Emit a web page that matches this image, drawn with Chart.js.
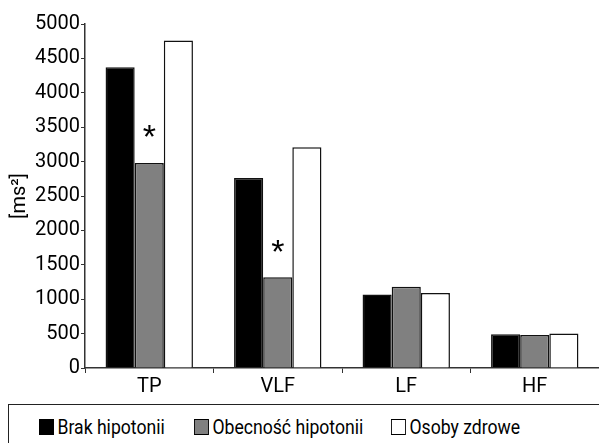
<!DOCTYPE html>
<html>
<head>
<meta charset="utf-8">
<script src="https://cdn.jsdelivr.net/npm/chart.js@4"></script>
<style>
  html, body { margin: 0; padding: 0; background: #fff; }
  body { width: 599px; height: 443px; position: relative; overflow: hidden;
         font-family: Roboto, "Liberation Sans", sans-serif; }
  #wrap { position: absolute; left: 0; top: 0; width: 599px; height: 404px; }
  #legend { position: absolute; left: 8px; top: 404px; width: 600px; height: 50px;
            border: 1px solid #222; box-sizing: border-box; }
  .item { position: absolute; top: 11px; font-size: 20px; line-height: 22px; color: #000;
          white-space: nowrap; transform: scaleX(0.88); transform-origin: left center; }
  .sw { display: inline-block; width: 17px; height: 16px; border: 1px solid #000;
        vertical-align: -1px; margin-right: 4px; box-sizing: border-box; }
</style>
</head>
<body>
<div id="wrap"><canvas id="chart"></canvas></div>
<div id="legend">
  <div class="item" style="left:30px"><span class="sw" style="background:#000"></span>Brak hipotonii</div>
  <div class="item" style="left:185px"><span class="sw" style="background:#808080"></span>Obecność hipotonii</div>
  <div class="item" style="left:382px"><span class="sw" style="background:#fff"></span>Osoby zdrowe</div>
</div>
<script>
// Data
const categories = ['TP', 'VLF', 'LF', 'HF'];
const brakHipotonii = [4370, 2760, 1070, 490];
const obecnoscHipotonii = [2980, 1320, 1180, 480];
const osobyZdrowe = [4760, 3210, 1090, 500];
const significant = [true, true, false, false]; // * over "Obecność hipotonii"
const yTicks = [0, 500, 1000, 1500, 2000, 2500, 3000, 3500, 4000, 4500, 5000];

const FONT = 'Roboto, "Liberation Sans", sans-serif';

// asterisks above the grey bars
const starPlugin = {
    id: 'stars',
    afterDatasetsDraw(chart) {
        const meta = chart.getDatasetMeta(1);
        const ctx = chart.ctx;
        ctx.save();
        ctx.fillStyle = '#000';
        ctx.font = '34px "Liberation Sans", sans-serif';
        ctx.textAlign = 'center';
        ctx.textBaseline = 'middle';
        meta.data.forEach((bar, i) => {
            if (significant[i]) ctx.fillText('*', bar.x, bar.y - 24);
        });
        ctx.restore();
    }
};

new Chart(document.getElementById('chart'), {
    type: 'bar',
    data: {
        labels: categories,
        datasets: [
            { label: 'Brak hipotonii', data: brakHipotonii, backgroundColor: '#000' },
            { label: 'Obecność hipotonii', data: obecnoscHipotonii, backgroundColor: '#808080' },
            { label: 'Osoby zdrowe', data: osobyZdrowe, backgroundColor: '#fff' }
        ].map(d => Object.assign(d, {
            borderColor: '#111',
            borderWidth: 1.5,
            categoryPercentage: 0.68,
            barPercentage: 1
        }))
    },
    options: {
        responsive: true,
        maintainAspectRatio: false,
        animation: false,
        layout: { padding: { top: 24, left: 0, right: 0, bottom: 0 } },
        plugins: {
            legend: { display: false },
            tooltip: { enabled: false }
        },
        scales: {
            x: {
                grid: { offset: true, drawOnChartArea: false, tickLength: 5, color: '#333' },
                border: { color: '#333', width: 1.5 },
                ticks: { color: '#000', font: { family: FONT, size: 20 }, padding: 2 },
                afterFit(scale) { scale.height = 36; }
            },
            y: {
                min: 0,
                max: 5000,
                afterBuildTicks(scale) { scale.ticks = yTicks.map(v => ({ value: v })); },
                grid: { drawOnChartArea: false, tickLength: 4, color: '#333' },
                border: { color: '#333', width: 1.5 },
                ticks: {
                    color: '#000',
                    font: { family: FONT, size: 20 },
                    padding: 1,
                    callback: v => String(v)
                },
                title: {
                    display: true,
                    text: '[ms²]',
                    color: '#000',
                    font: { family: FONT, size: 20 },
                    padding: { top: 8, bottom: 0 }
                },
                afterFit(scale) { scale.width = 85; }
            }
        }
    },
    plugins: [starPlugin]
});
</script>
</body>
</html>
